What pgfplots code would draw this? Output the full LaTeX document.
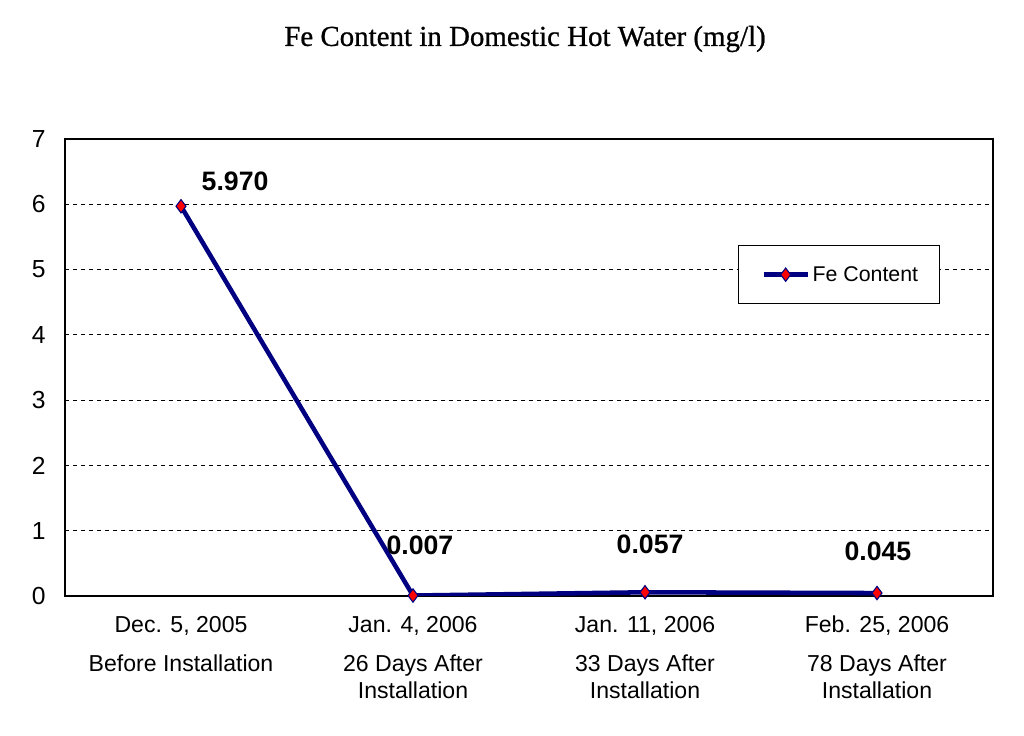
\documentclass[border=0pt]{standalone}
\usepackage{pgfplots}
\pgfplotsset{compat=1.18}
\usepackage{fontspec}
\setmainfont{Liberation Sans}
\newfontfamily\titlefont[FakeBold=0.8]{Liberation Serif}
\definecolor{navyline}{RGB}{0,0,128}
\begin{document}
\begin{tikzpicture}
\path[use as bounding box] (0,0) rectangle (768pt,551.25pt);
\begin{axis}[
  at={(48.75pt,104.25pt)}, anchor=south west,
  scale only axis, width=696pt, height=342.75pt,
  xmin=-0.5, xmax=3.5, ymin=0, ymax=7,
  xtick={0,1,2,3},
  xticklabels={
    {\strut Dec. 5, 2005\\[9pt]Before Installation},
    {\strut Jan. 4, 2006\\[9pt]26 Days After\\Installation},
    {\strut Jan. 11, 2006\\[9pt]33 Days After\\Installation},
    {\strut Feb. 25, 2006\\[9pt]78 Days After\\Installation}},
  ytick={0,1,...,7},
  major tick length=0pt,
  xticklabel style={font=\fontsize{17.3}{20.25}\selectfont, align=center, anchor=north, yshift=-10pt},
  yticklabel style={font=\fontsize{18.5}{20}\selectfont, xshift=-11pt},
  /pgf/number format/assume math mode=true,
  ymajorgrids, grid style={black, dashed, line width=0.6pt},
  axis line style={black, line width=1pt},
  title={\titlefont\fontsize{21.7}{24}\selectfont Fe Content in Domestic Hot Water (mg/l)},
  title style={at={(0.5,1)}, anchor=center, yshift=69pt, xshift=-3pt},
  legend style={at={(0.725,0.768)}, anchor=north west, draw=black, line width=0.8pt,
    font=\fontsize{16}{18}\selectfont, inner xsep=14pt, inner ysep=13.5pt, fill=white},
  legend cell align=left,
  legend image code/.code={
    \path[draw=none, fill=none] (0pt,-1pt) rectangle (1pt,1pt);
    \draw[#1, mark=none] (5pt,0pt) -- (38pt,0pt);
    \draw[#1, only marks] plot coordinates {(21.5pt,0pt)};
  },
]
\addplot[navyline, line width=3.4pt, mark=diamond*, mark size=5pt,
  mark options={fill=red, draw=navyline, line width=0.8pt}]
  coordinates {(0,5.970) (1,0.007) (2,0.057) (3,0.045)};
\addlegendentry{Fe Content}
\node[font=\bfseries\fontsize{20}{22}\selectfont] at (axis cs:0.233,6.356) {5.970};
\node[font=\bfseries\fontsize{20}{22}\selectfont] at (axis cs:1.03,0.78) {0.007};
\node[font=\bfseries\fontsize{20}{22}\selectfont] at (axis cs:2.022,0.796) {0.057};
\node[font=\bfseries\fontsize{20}{22}\selectfont] at (axis cs:3.004,0.689) {0.045};
\end{axis}
\end{tikzpicture}
\end{document}
